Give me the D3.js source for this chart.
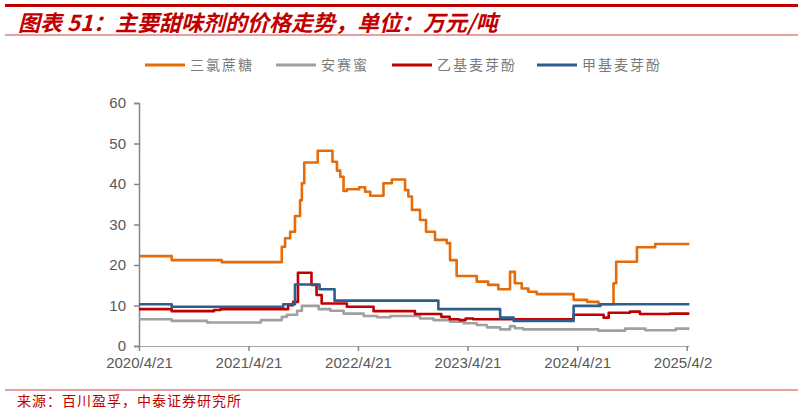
<!DOCTYPE html>
<html>
<head>
<meta charset="utf-8">
<script src="https://cdn.jsdelivr.net/npm/d3@7"></script>
<style>
  body { margin: 0; background: #fff; }
  svg { display: block; }
</style>
</head>
<body>
<div id="chart"></div>
<script>
// series: [date, value], drawn as steps
const sucralose = [
  ["2020-04-21", 22.2], ["2020-08-08", 21.2], ["2021-01-22", 20.7],
  ["2021-08-10", 24.5], ["2021-08-21", 26.6], ["2021-09-07", 28.2],
  ["2021-09-23", 32.1], ["2021-10-10", 36.0], ["2021-10-16", 40.2],
  ["2021-10-24", 45.3], ["2021-12-08", 48.2], ["2022-01-26", 45.5],
  ["2022-02-10", 43.3], ["2022-02-21", 41.8], ["2022-03-04", 38.3],
  ["2022-03-15", 38.7], ["2022-04-25", 39.2], ["2022-05-15", 38.1],
  ["2022-06-01", 37.1], ["2022-07-15", 40.2], ["2022-08-12", 41.1],
  ["2022-09-25", 38.5], ["2022-10-06", 36.9], ["2022-10-18", 33.6],
  ["2022-11-14", 31.1], ["2022-12-04", 28.2], ["2023-01-03", 26.2],
  ["2023-02-11", 25.4], ["2023-02-22", 21.2], ["2023-03-16", 17.3],
  ["2023-05-22", 15.9], ["2023-06-29", 15.1], ["2023-08-02", 14.0],
  ["2023-09-10", 18.3], ["2023-09-26", 15.5], ["2023-10-19", 14.2],
  ["2023-11-10", 13.4], ["2023-12-08", 12.8], ["2024-04-09", 11.4],
  ["2024-05-24", 10.9], ["2024-07-01", 10.3], ["2024-08-20", 15.5],
  ["2024-08-29", 20.8], ["2024-11-06", 24.4], ["2025-01-06", 25.2],
  ["2025-04-30", 25.2]
];
const acesulfame = [
  ["2020-04-21", 6.6], ["2020-08-08", 6.2], ["2020-12-04", 5.8],
  ["2021-06-01", 6.4], ["2021-08-10", 7.2], ["2021-08-27", 7.7],
  ["2021-09-30", 8.7], ["2021-10-16", 9.9], ["2021-12-11", 9.1],
  ["2022-01-19", 8.7], ["2022-03-04", 8.0], ["2022-05-10", 7.4],
  ["2022-06-24", 7.1], ["2022-08-07", 7.4], ["2022-11-14", 6.8],
  ["2022-12-29", 6.4], ["2023-02-22", 6.0], ["2023-04-08", 5.6],
  ["2023-05-22", 5.2], ["2023-06-25", 4.6], ["2023-08-08", 4.1],
  ["2023-09-10", 4.9], ["2023-09-26", 4.4], ["2023-10-24", 4.1],
  ["2024-06-30", 3.8], ["2024-09-28", 4.3], ["2024-12-04", 3.9],
  ["2025-03-16", 4.3], ["2025-04-30", 4.3]
];
const ethylMaltol = [
  ["2020-04-21", 9.1], ["2020-08-08", 8.6], ["2020-12-27", 8.9],
  ["2021-01-18", 9.1], ["2021-08-31", 10.1], ["2021-09-17", 10.9],
  ["2021-10-03", 18.1], ["2021-11-17", 15.1], ["2021-12-04", 12.6],
  ["2021-12-21", 10.5], ["2022-03-15", 9.7], ["2022-06-12", 8.6],
  ["2022-10-28", 7.9], ["2023-01-24", 7.2], ["2023-02-21", 6.6],
  ["2023-03-25", 6.4], ["2023-04-15", 6.8], ["2023-05-10", 6.6],
  ["2024-04-09", 7.7], ["2024-07-18", 7.0], ["2024-08-04", 8.2],
  ["2024-10-14", 8.5], ["2024-11-16", 7.9], ["2025-02-24", 8.0],
  ["2025-04-30", 8.0]
];
const methylMaltol = [
  ["2020-04-21", 10.3], ["2020-08-08", 9.7], ["2021-08-15", 10.3],
  ["2021-09-23", 15.2], ["2021-12-14", 14.0], ["2022-02-02", 11.2],
  ["2023-01-14", 9.1], ["2023-08-08", 7.0], ["2023-09-22", 6.2],
  ["2024-04-09", 9.9], ["2024-07-07", 10.3], ["2025-04-30", 10.3]
];

const seriesNames = ["三氯蔗糖", "安赛蜜", "乙基麦芽酚", "甲基麦芽酚"];
const seriesColors = ["#E46C0A", "#A0A0A0", "#C00000", "#2E5E8E"];
const yTicks = [0, 10, 20, 30, 40, 50, 60];
const xTickLabels = ["2020/4/21", "2021/4/21", "2022/4/21", "2023/4/21", "2024/4/21", "2025/4/21"];

const W = 803, H = 413;
const parse = d3.timeParse("%Y-%m-%d");
const parseTick = d3.timeParse("%Y/%m/%d");

const svg = d3.select("#chart").append("svg")
  .attr("width", W)
  .attr("height", H);

// header
svg.append("rect").attr("x", 5).attr("y", 4).attr("width", 793).attr("height", 3).attr("fill", "#C00000");
svg.append("text")
  .attr("x", 18).attr("y", 31)
  .attr("fill", "#C00000")
  .attr("font-family", "'Noto Sans CJK SC', sans-serif")
  .attr("font-size", 22)
  .attr("font-weight", "bold")
  .attr("font-style", "italic")
  .text("图表 51：主要甜味剂的价格走势，单位：万元/吨");
svg.append("rect").attr("x", 5).attr("y", 34.5).attr("width", 793).attr("height", 1).attr("fill", "#D04040");

// footer
svg.append("rect").attr("x", 5).attr("y", 389.5).attr("width", 793).attr("height", 1).attr("fill", "#D04040");
svg.append("text")
  .attr("x", 17).attr("y", 406)
  .attr("fill", "#C00000")
  .attr("font-family", "'Noto Sans CJK SC', sans-serif")
  .attr("font-size", 14)
  .attr("letter-spacing", 1)
  .text("来源：百川盈孚，中泰证券研究所");

// scales
const x = d3.scaleTime()
  .domain([parseTick("2020/4/21"), parseTick("2025/4/21")])
  .range([139, 686.7]);
const y = d3.scaleLinear().domain([0, 60]).range([346, 103]);

svg.append("clipPath").attr("id", "clip")
  .append("rect").attr("x", 0).attr("y", 0).attr("width", 713).attr("height", H);

const axisColor = "#868686";
const labelColor = "#595959";

const gy = svg.append("g")
  .attr("transform", "translate(139,0)")
  .call(d3.axisLeft(y).tickValues(yTicks).tickSize(5).tickPadding(8));
gy.select(".domain").attr("stroke", axisColor).attr("stroke-width", 1.5);
gy.selectAll(".tick line").attr("stroke", axisColor).attr("stroke-width", 1.5);
gy.selectAll(".tick text")
  .attr("fill", labelColor)
  .attr("font-family", "Arial, 'Liberation Sans', sans-serif")
  .attr("font-size", 15);

const gx = svg.append("g")
  .attr("transform", "translate(0,346)")
  .attr("clip-path", "url(#clip)")
  .call(d3.axisBottom(x)
    .tickValues(xTickLabels.map(parseTick))
    .tickFormat((d, i) => xTickLabels[i])
    .tickSize(5).tickSizeOuter(0).tickPadding(6));
gx.select(".domain").attr("stroke", axisColor).attr("stroke-width", 1.5)
  .attr("d", `M139,0H${x(parse("2025-04-30"))}`);
gx.selectAll(".tick line").attr("stroke", axisColor).attr("stroke-width", 1.5);
gx.selectAll(".tick text")
  .attr("fill", labelColor)
  .attr("font-family", "Arial, 'Liberation Sans', sans-serif")
  .attr("font-size", 15);

// lines
const line = d3.line()
  .curve(d3.curveStepAfter)
  .x(d => x(parse(d[0])))
  .y(d => y(d[1]));

const allSeries = [sucralose, acesulfame, ethylMaltol, methylMaltol];
svg.append("g").selectAll("path")
  .data(allSeries)
  .join("path")
  .attr("d", line)
  .attr("fill", "none")
  .attr("stroke", (d, i) => seriesColors[i])
  .attr("stroke-width", 2.6)
  .attr("stroke-linejoin", "round");

// legend
const legendX = [145, 276, 392, 537];
const legend = svg.append("g").selectAll("g")
  .data(seriesNames)
  .join("g")
  .attr("transform", (d, i) => `translate(${legendX[i]},65)`);
legend.append("line")
  .attr("x1", 0).attr("x2", 40)
  .attr("stroke", (d, i) => seriesColors[i])
  .attr("stroke-width", 3);
legend.append("text")
  .attr("x", 45).attr("y", 5)
  .attr("fill", "#7a7a7a")
  .attr("font-family", "'Noto Sans CJK SC', sans-serif")
  .attr("font-size", 14)
  .attr("letter-spacing", 2)
  .text(d => d);
</script>
</body>
</html>
